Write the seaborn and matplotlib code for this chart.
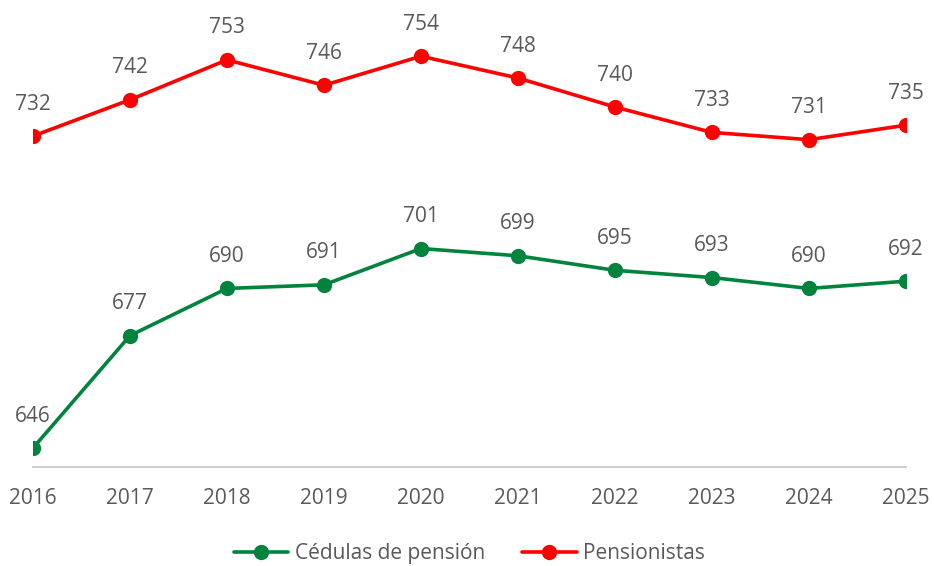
import pandas as pd
import matplotlib.pyplot as plt
import seaborn as sns

years = [2016, 2017, 2018, 2019, 2020, 2021, 2022, 2023, 2024, 2025]
cedulas = [646, 677, 690, 691, 701, 699, 695, 693, 690, 692]
pensionistas = [732, 742, 753, 746, 754, 748, 740, 733, 731, 735]

df = pd.DataFrame({
    "Año": years * 2,
    "Valor": cedulas + pensionistas,
    "Serie": ["Cédulas de pensión"] * len(years) + ["Pensionistas"] * len(years),
})

sns.set_theme(style="white")
plt.rcParams["font.family"] = ["Open Sans", "DejaVu Sans"]

fig = plt.figure(figsize=(9.34, 5.66), dpi=100)
ax = fig.add_axes([0.0353, 0.175, 0.9347, 0.825])

palette = {"Cédulas de pensión": "#00843D", "Pensionistas": "#FF0000"}
sns.lineplot(data=df, x="Año", y="Valor", hue="Serie", palette=palette,
             marker="o", markersize=11, markeredgewidth=0, linewidth=2.6, ax=ax)

# Data labels above each point
for vals in (cedulas, pensionistas):
    for x, v in zip(years, vals):
        ax.annotate(str(v), (x, v), xytext=(0, 23), textcoords="offset points",
                    ha="center", va="center", fontsize=15, color="#595959")

ax.set_xlim(2016, 2025)
ax.set_ylim(640.8, 769.5)
ax.set_xticks(years)
ax.set_xticklabels([str(y) for y in years], fontsize=15, color="#595959")
ax.tick_params(axis="x", length=0, pad=15)
ax.set_yticks([])
ax.set_xlabel("")
ax.set_ylabel("")
for side in ["top", "left", "right"]:
    ax.spines[side].set_visible(False)
ax.spines["bottom"].set_color("#C8C8C8")
ax.spines["bottom"].set_linewidth(1.3)
ax.patch.set_alpha(0)

handles, labels = ax.get_legend_handles_labels()
ax.legend(handles, labels, loc="center", bbox_to_anchor=(0.5, -0.185),
          ncol=2, frameon=False, fontsize=15, labelcolor="#595959",
          handlelength=2.6, columnspacing=1.8, handletextpad=0.3)

fig.savefig("out.png", dpi=100)
